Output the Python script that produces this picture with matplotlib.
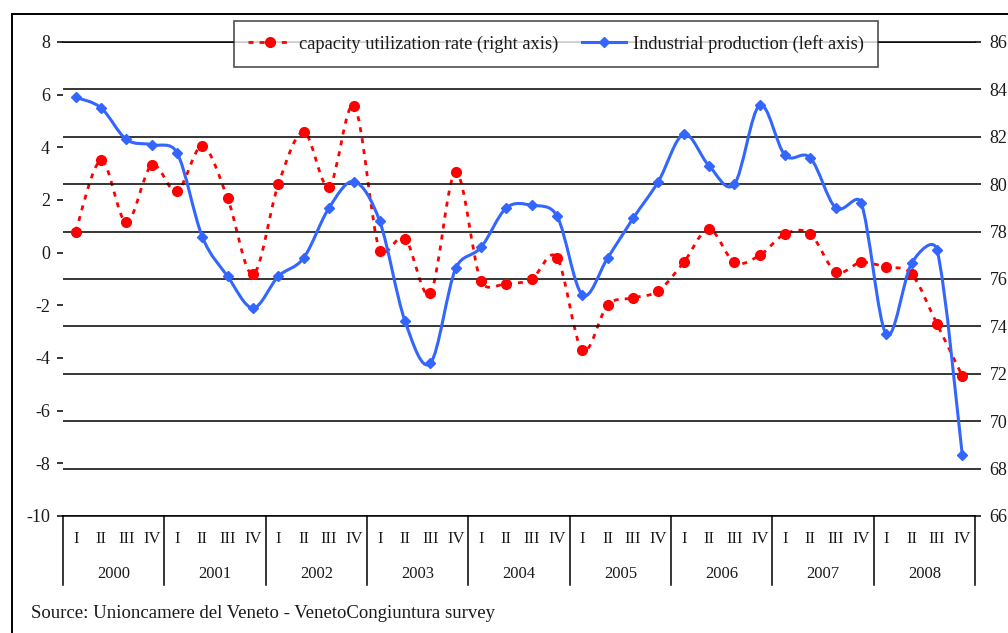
import numpy as np
import matplotlib
matplotlib.use('Agg')
import matplotlib.pyplot as plt
import matplotlib.transforms as mtransforms
from matplotlib.path import Path
from matplotlib.patches import PathPatch
from matplotlib.lines import Line2D

# Quarterly data 2000-2008
years = [2000, 2001, 2002, 2003, 2004, 2005, 2006, 2007, 2008]
quarters = ['I', 'II', 'III', 'IV']

# Industrial production, % change (left axis)
industrial = [5.9, 5.5, 4.3, 4.1, 3.8, 0.6, -0.9, -2.1, -0.9, -0.2, 1.7, 2.7,
              1.2, -2.6, -4.2, -0.6, 0.2, 1.7, 1.8, 1.4, -1.6, -0.2, 1.3, 2.7,
              4.5, 3.3, 2.6, 5.6, 3.7, 3.6, 1.7, 1.9, -3.1, -0.4, 0.1, -7.7]
# Capacity utilization rate, % (right axis)
capacity = [78.0, 81.0, 78.4, 80.8, 79.7, 81.6, 79.4, 76.2, 80.0, 82.2, 79.9, 83.3,
            77.2, 77.7, 75.4, 80.5, 75.9, 75.8, 76.0, 76.9, 73.0, 74.9, 75.2, 75.5,
            76.7, 78.1, 76.7, 77.0, 77.9, 77.9, 76.3, 76.7, 76.5, 76.2, 74.1, 71.9]

left_ticks = list(range(-10, 9, 2))
right_ticks = list(range(66, 87, 2))

BLUE = '#3366ff'
RED = '#ff0000'
FONT = 'Liberation Serif'
TXT = '#1a1a1a'

plt.rcParams['font.family'] = FONT
plt.rcParams['axes.unicode_minus'] = False


def smooth_path(x, y, sx=1.0, sy=1.0):
    """Bezier path through the points, like Excel's smoothed line.

    Tangents use 1/6 of the neighbour chord, capped at half of the
    segment length (measured in pixels via sx, sy).
    """
    pts = np.column_stack([x, y]).astype(float)
    ext = np.vstack([pts[0], pts, pts[-1]])
    scale = np.array([sx, sy])

    def dist(a, b):
        return np.hypot(*((b - a) * scale))

    verts = [pts[0]]
    codes = [Path.MOVETO]
    for i in range(len(pts) - 1):
        p0, p1, p2, p3 = ext[i], ext[i + 1], ext[i + 2], ext[i + 3]
        d12 = dist(p1, p2)
        d02 = dist(p0, p2)
        d13 = dist(p1, p3)
        f1 = 1 / 6
        f2 = 1 / 6
        if d02 / 6 > d12 / 2 and d02 > 0:
            f1 = d12 / (2 * d02)
        if d13 / 6 > d12 / 2 and d13 > 0:
            f2 = d12 / (2 * d13)
        verts += [p1 + (p2 - p0) * f1, p2 - (p3 - p1) * f2, p2]
        codes += [Path.CURVE4] * 3
    return Path(verts, codes)


W, H = 1008, 633
fig = plt.figure(figsize=(W / 100, H / 100), dpi=100)
ax = fig.add_axes([63 / W, 1 - 516 / H, 912 / W, 474 / H])
ax2 = ax.twinx()

n = len(years) * len(quarters)
xpos = np.arange(n) + 0.5

ax.set_xlim(0, n)
ax.set_ylim(-10, 8)
ax2.set_ylim(66, 86)
ax.set_yticks(left_ticks)
ax2.set_yticks(right_ticks)
ax.set_xticks([])

# gridlines follow the right axis
ax2.yaxis.grid(True, color='black', linewidth=1.1)
ax.set_zorder(ax2.get_zorder() + 1)
ax.patch.set_visible(False)

for a in (ax, ax2):
    for s in a.spines.values():
        s.set_visible(False)
ax2.spines['top'].set_visible(True)
ax2.spines['bottom'].set_visible(True)
for s in ('top', 'bottom'):
    ax2.spines[s].set_linewidth(1.1)

ax.tick_params(axis='y', direction='out', length=4.5, width=1.1, pad=5,
               labelsize=13, labelcolor=TXT)
ax2.tick_params(axis='y', direction='out', length=4.5, width=1.1, pad=6,
                labelsize=13, labelcolor=TXT)

# pixel size of one data unit, for the smoothing cap
px_x = 912 / n
px_left = 474 / (8 - (-10))
px_right = 474 / (86 - 66)

red_dash = (0, (1.8, 2.2))

# capacity utilization: dotted smoothed line with round markers
ax2.add_patch(PathPatch(smooth_path(xpos, capacity, px_x, px_right), fill=False,
                        edgecolor=RED, linewidth=2.0, linestyle=red_dash,
                        capstyle='butt'))
ax2.plot(xpos, capacity, linestyle='none', marker='o', markersize=7,
         color=RED)

# industrial production: smoothed line with diamonds
ax.add_patch(PathPatch(smooth_path(xpos, industrial, px_x, px_left), fill=False,
                       edgecolor=BLUE, linewidth=2.2))
ax.plot(xpos, industrial, linestyle='none', marker='D', markersize=5,
        color=BLUE)

# category axis: quarters and years
trans = mtransforms.blended_transform_factory(ax.transData, ax.transAxes)
for k in range(len(years) + 1):
    ax.add_line(Line2D([4 * k, 4 * k], [0, -0.1456], transform=trans,
                       color='black', linewidth=1.1, clip_on=False))
for i, x in enumerate(xpos):
    ax.text(x, -0.049, quarters[i % 4], transform=trans, ha='center', va='center',
            fontsize=12, color=TXT)
for k, yr in enumerate(years):
    ax.text(4 * k + 2, -0.122, str(yr), transform=trans, ha='center', va='center',
            fontsize=12, color=TXT)

# legend
handles = [
    Line2D([], [], color=RED, linewidth=2.0, linestyle=red_dash,
           marker='o', markersize=7, label='capacity utilization rate (right axis)'),
    Line2D([], [], color=BLUE, linewidth=2.2, marker='D', markersize=5,
           label='Industrial production (left axis)'),
]
leg = fig.legend(handles=handles, loc='center', ncol=2,
                 bbox_to_anchor=(556 / W, 1 - 44 / H), fontsize=13.2,
                 frameon=True, fancybox=False, edgecolor='#222222',
                 handlelength=2.4, columnspacing=1.3, handletextpad=0.4,
                 borderpad=0.75, borderaxespad=0)
leg.get_frame().set_linewidth(1.2)
for t in leg.get_texts():
    t.set_color(TXT)

fig.text(31 / W, 1 - 613 / H, 'Source: Unioncamere del Veneto - VenetoCongiuntura survey',
         ha='left', va='center', fontsize=13.5, color=TXT)

# outer frame (cut off at the right and bottom)
fig.add_artist(Line2D([12 / W, 1], [1 - 14 / H, 1 - 14 / H],
                      transform=fig.transFigure, color='black', linewidth=1.4))
fig.add_artist(Line2D([12 / W, 12 / W], [0, 1 - 14 / H],
                      transform=fig.transFigure, color='black', linewidth=1.4))

fig.savefig('out.png', dpi=100)
